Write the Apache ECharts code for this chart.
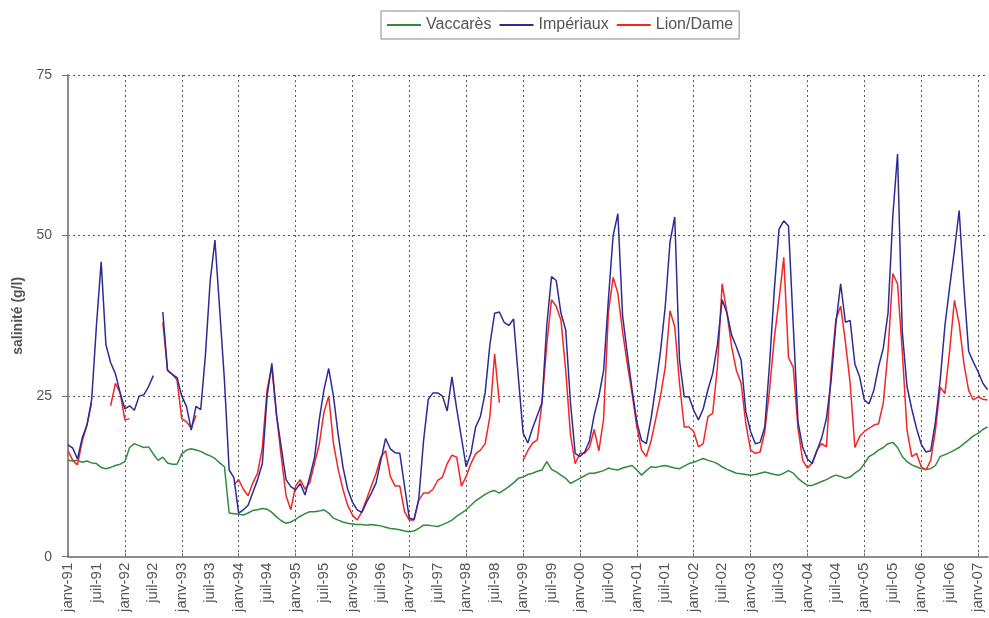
<!DOCTYPE html>
<html>
<head>
<meta charset="utf-8">
<script src="https://cdn.jsdelivr.net/npm/echarts@6/dist/echarts.min.js"></script>
<style>
  html, body { margin: 0; padding: 0; background: #fff; }
  #chart { width: 989px; height: 618px; }
</style>
</head>
<body>
<div id="chart"></div>
<script>
// Monthly salinity (g/l), January 1991 to March 2007
const monthNames = ['janv', 'févr', 'mars', 'avr', 'mai', 'juin', 'juil', 'août', 'sept', 'oct', 'nov', 'déc'];
const firstYear = 1991;
const monthCount = 195;

const vaccares = [
  15.0, 14.9, 15.0, 14.7, 14.9, 14.6, 14.5, 13.9, 13.7, 13.9, 14.2, 14.4,
  14.8, 17.0, 17.6, 17.3, 17.0, 17.1, 16.0, 15.0, 15.5, 14.6, 14.4, 14.4,
  16.0, 16.6, 16.8, 16.6, 16.4, 16.0, 15.7, 15.3, 14.6, 14.0, 6.8, 6.7,
  6.6, 6.5, 6.8, 7.2, 7.3, 7.5, 7.4, 6.9, 6.2, 5.6, 5.2, 5.4,
  5.8, 6.3, 6.7, 7.0, 7.0, 7.1, 7.3, 6.8, 6.0, 5.7, 5.4, 5.2,
  5.1, 5.0, 5.0, 4.9, 5.0, 4.9, 4.8, 4.6, 4.4, 4.3, 4.2, 4.0,
  3.9, 4.0, 4.4, 4.9, 4.9, 4.8, 4.7, 5.0, 5.3, 5.7, 6.3, 6.8,
  7.3, 8.0, 8.7, 9.2, 9.7, 10.1, 10.3, 9.9, 10.4, 10.9, 11.5, 12.2,
  12.4, 12.8, 13.0, 13.3, 13.5, 14.8, 13.6, 13.2, 12.7, 12.2, 11.4, 11.8,
  12.2, 12.6, 13.0, 13.0, 13.2, 13.4, 13.8, 13.6, 13.5, 13.8, 14.0, 14.2,
  13.5, 12.7, 13.4, 14.0, 13.9, 14.1, 14.2, 14.0, 13.8, 13.7, 14.1, 14.5,
  14.7, 15.0, 15.3, 15.0, 14.8, 14.5, 14.0, 13.6, 13.3, 13.0, 12.9, 12.8,
  12.7, 12.8, 13.0, 13.2, 13.0, 12.8, 12.7, 13.0, 13.4, 13.0, 12.2, 11.6,
  11.1, 11.1, 11.4, 11.7, 12.0, 12.4, 12.7, 12.5, 12.2, 12.4, 13.0, 13.5,
  14.5, 15.6, 16.0, 16.6, 17.0, 17.6, 17.8, 17.0, 15.6, 14.8, 14.3, 14.0,
  13.7, 13.6, 13.7, 14.2, 15.6, 15.9, 16.2, 16.6, 17.0, 17.6, 18.2, 18.8,
  19.2, 19.8, 20.2
];

const imperiaux = [
  17.4, 16.9, 15.2, 18.5, 20.5, 24.5, 36.0, 45.9, 33.0, 30.2, 28.5, 25.5,
  23.0, 23.5, 22.8, 25.0, 25.2, 26.5, 28.2, null, 38.1, 29.0, 28.4, 27.9,
  25.0, 23.4, 19.7, 23.4, 22.9, 31.5, 43.0, 49.3, 38.5, 27.5, 13.5, 12.3,
  6.8, 7.3, 8.0, 10.0, 12.0, 14.5, 25.0, 30.1, 22.0, 17.0, 12.0, 10.9,
  10.4, 11.4, 9.6, 12.4, 15.4, 21.3, 26.0, 29.3, 25.0, 19.0, 14.0, 10.5,
  8.5, 7.3, 6.9, 8.5, 9.9, 11.5, 15.0, 18.4, 16.8, 16.2, 16.1, 11.0,
  6.0, 5.8, 9.0, 18.0, 24.5, 25.5, 25.5, 25.0, 22.7, 28.0, 23.0, 18.5,
  14.0, 16.1, 20.2, 21.8, 25.5, 33.0, 37.9, 38.1, 36.5, 36.0, 37.0, 28.0,
  19.3, 17.7, 20.0, 22.0, 24.0, 36.0, 43.6, 43.0, 37.9, 35.3, 24.0, 16.1,
  15.6, 16.3, 18.0, 22.0, 25.0, 29.0, 40.0, 50.0, 53.4, 37.5, 31.6, 26.0,
  21.0, 18.1, 17.6, 21.5, 26.5, 32.0, 39.0, 49.0, 52.9, 30.6, 24.9, 24.9,
  22.8, 21.3, 23.0, 26.0, 28.5, 33.0, 40.0, 38.0, 34.5, 32.7, 30.6, 22.5,
  19.5, 17.6, 17.8, 20.2, 30.0, 41.5, 51.0, 52.3, 51.5, 36.0, 21.0, 17.0,
  15.2, 14.5, 16.5, 18.5, 21.5, 27.5, 36.3, 42.5, 36.5, 36.8, 30.0, 28.0,
  24.4, 23.8, 25.9, 29.6, 32.5, 38.0, 53.0, 62.7, 35.0, 26.5, 23.0, 20.0,
  17.5, 16.3, 16.5, 21.0, 27.5, 36.0, 42.0, 47.7, 53.9, 42.0, 32.0, 30.3,
  28.8, 27.0, 26.0
];

const lionDame = [
  16.5, 15.0, 14.3, 18.0, 20.5, 24.0, null, null, null, 23.5, 27.0, 25.5,
  21.3, 21.5, null, null, null, null, null, null, 36.5, 29.0, 28.4, 27.5,
  21.5, 21.0, 20.0, 22.0, null, null, null, null, null, null, null, 11.2,
  12.0, 10.5, 9.5, 11.5, 13.0, 17.0, 26.0, 29.5, 22.0, 15.5, 9.5, 7.3,
  11.0, 12.0, 10.5, 11.5, 14.5, 17.5, 22.5, 25.0, 17.6, 13.6, 10.5, 8.0,
  6.5, 5.7, 7.0, 9.0, 11.0, 13.0, 15.5, 16.5, 12.5, 11.0, 11.0, 7.0,
  5.7, 5.7, 8.8, 9.9, 9.9, 10.5, 11.9, 12.4, 14.5, 15.8, 15.5, 11.0,
  12.5, 14.5, 16.0, 16.6, 17.6, 21.8, 31.6, 24.0, null, null, null, null,
  15.0, 16.5, 17.7, 18.2, 24.0, 33.0, 40.0, 39.0, 36.8, 29.0, 19.0, 14.5,
  16.1, 16.1, 17.0, 19.8, 16.5, 21.5, 38.0, 43.5, 41.0, 35.0, 30.0, 25.4,
  20.2, 16.6, 15.6, 18.0, 21.5, 25.0, 29.5, 38.3, 35.8, 27.0, 20.2, 20.2,
  19.5, 17.1, 17.6, 21.8, 22.3, 29.5, 42.5, 38.0, 32.7, 29.0, 27.0, 20.7,
  16.6, 16.1, 16.3, 19.5, 26.0, 34.0, 40.0, 46.6, 31.0, 29.5, 20.0, 15.0,
  13.8, 14.6, 16.6, 17.6, 17.1, 29.0, 37.0, 39.0, 33.5, 27.0, 17.0, 18.7,
  19.5, 20.0, 20.5, 20.7, 24.0, 32.0, 44.1, 42.5, 32.0, 19.7, 15.6, 16.1,
  14.0, 13.5, 15.0, 19.7, 26.4, 25.4, 32.1, 39.9, 36.3, 30.1, 25.9, 24.4,
  24.9, 24.5, 24.4
];

const yTicks = [0, 25, 50, 75];
const seriesNames = ['Vaccarès', 'Impériaux', 'Lion/Dame'];
const seriesColors = ['#2f8c3c', '#2c2c96', '#f42525'];

// category labels such as "janv-91", "juil-91"
const categories = [];
for (let i = 0; i < monthCount; i++) {
  const y = firstYear + Math.floor(i / 12);
  categories.push(monthNames[i % 12] + '-' + String(y).slice(2));
}

const chart = echarts.init(document.getElementById('chart'), null, { renderer: 'canvas' });

const font = 'Liberation Sans, Arial, sans-serif';
const dashed = { color: '#5a5a5a', width: 1, type: [2, 3] };

chart.setOption({
  animation: false,
  backgroundColor: '#fff',
  legend: {
    data: seriesNames,
    left: 381,
    top: 11,
    padding: [6, 6],
    itemGap: 8,
    itemWidth: 34,
    itemHeight: 2,
    icon: 'rect',
    borderColor: '#8a8a8a',
    borderWidth: 1,
    textStyle: { fontFamily: font, fontSize: 16, color: '#555' }
  },
  grid: { left: 68, right: 1.4, top: 75, bottom: 61.3, containLabel: false },
  xAxis: {
    type: 'category',
    data: categories,
    boundaryGap: false,
    axisLine: { lineStyle: { color: '#8c8c8c', width: 2 } },
    axisTick: { show: true, interval: 11, length: 4, inside: true, lineStyle: { color: '#777' } },
    axisLabel: {
      interval: 5,
      rotate: 90,
      margin: 6,
      fontFamily: font,
      fontSize: 15,
      color: '#555'
    },
    splitLine: { show: true, interval: 11, lineStyle: dashed }
  },
  yAxis: {
    type: 'value',
    min: yTicks[0],
    max: yTicks[yTicks.length - 1],
    interval: 25,
    name: 'salinité (g/l)',
    nameLocation: 'middle',
    nameGap: 42,
    nameRotate: 90,
    nameTextStyle: { fontFamily: font, fontSize: 14, fontWeight: 'bold', color: '#555' },
    axisLine: { show: true, lineStyle: { color: '#8c8c8c', width: 2 } },
    axisTick: { show: true, length: 6, lineStyle: { color: '#777' } },
    axisLabel: { margin: 16, fontFamily: font, fontSize: 14, color: '#555' },
    splitLine: { show: true, lineStyle: dashed }
  },
  series: [
    {
      name: seriesNames[0], type: 'line', data: vaccares, symbol: 'none',
      lineStyle: { color: seriesColors[0], width: 1.5 }, itemStyle: { color: seriesColors[0] }, z: 2
    },
    {
      name: seriesNames[2], type: 'line', data: lionDame, symbol: 'none', connectNulls: false,
      lineStyle: { color: seriesColors[2], width: 1.5 }, itemStyle: { color: seriesColors[2] }, z: 3
    },
    {
      name: seriesNames[1], type: 'line', data: imperiaux, symbol: 'none', connectNulls: false,
      lineStyle: { color: seriesColors[1], width: 1.5 }, itemStyle: { color: seriesColors[1] }, z: 4
    }
  ]
});
</script>
</body>
</html>
